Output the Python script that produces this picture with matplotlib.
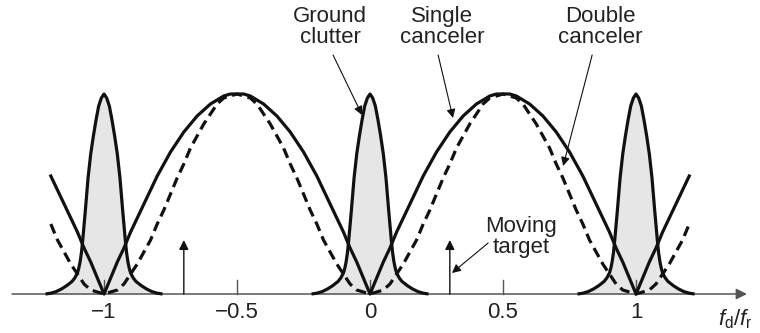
import numpy as np
import matplotlib
matplotlib.use('Agg')
import matplotlib.pyplot as plt

plt.rcParams['font.family'] = ['Liberation Sans', 'DejaVu Sans']
plt.rcParams['mathtext.fontset'] = 'custom'
plt.rcParams['mathtext.rm'] = 'Liberation Sans'
plt.rcParams['mathtext.it'] = 'Liberation Sans:italic'

# tick positions and labels on the f_d/f_r axis
ticks = [-1, -0.5, 0, 0.5, 1]
tick_labels = ['\u22121', '\u22120.5', '0', '0.5', '1']

# one half-lobe of the canceler responses
lobe_offsets = [0, 0.025, 0.05, 0.075, 0.1, 0.125, 0.15, 0.175, 0.2, 0.225, 0.25,
                0.275, 0.3, 0.325, 0.35, 0.375, 0.4, 0.425, 0.45, 0.475, 0.5]
single_level = [0, 0.08, 0.16, 0.23, 0.31, 0.38, 0.45, 0.52, 0.59, 0.65, 0.71,
                0.76, 0.81, 0.85, 0.89, 0.92, 0.95, 0.97, 0.99, 1.0, 1.0]
double_level = [0, 0.01, 0.02, 0.05, 0.10, 0.15, 0.21, 0.27, 0.35, 0.42, 0.50,
                0.58, 0.65, 0.73, 0.79, 0.85, 0.90, 0.95, 0.98, 0.99, 1.0]
canceler_edge = 1.2

# half of one clutter spectrum, repeated at each PRF line
clutter_centres = [-1, 0, 1]
clutter_offsets = [0, 0.01, 0.02, 0.03, 0.04, 0.05, 0.06, 0.07, 0.08, 0.085, 0.09,
                   0.095, 0.10, 0.11, 0.12, 0.14, 0.16, 0.18, 0.20, 0.22]
clutter_level = [1.0, 0.98, 0.94, 0.87, 0.79, 0.70, 0.58, 0.42, 0.27, 0.205, 0.16,
                 0.128, 0.105, 0.08, 0.063, 0.042, 0.025, 0.012, 0.004, 0]

# moving target lines
target_freqs = [-0.7, 0.3]
target_level = 0.27


def canceler_curve(level):
    off = np.array(lobe_offsets)
    lv = np.array(level)
    x = np.concatenate([off, 1 - off[::-1][1:]])
    y = np.concatenate([lv, lv[::-1][1:]])
    xs = np.concatenate([x + k for k in (-2, -1, 0, 1)])
    ys = np.tile(y, 4)
    keep = np.abs(xs) <= canceler_edge + 1e-9
    return xs[keep], ys[keep]


def clutter_curve(centre):
    off = np.array(clutter_offsets)
    lv = np.array(clutter_level)
    x = centre + np.concatenate([-off[::-1], off[1:]])
    y = np.concatenate([lv[::-1], lv[1:]])
    return x, y


fig = plt.figure(figsize=(7.6, 3.33), dpi=100)
ax = fig.add_axes([0, 0, 1, 1])
ax.set_xlim(-1.391, 1.466)
ax.set_ylim(-0.195, 1.47)
ax.axis('off')

ink = '#111111'
txt = '#222222'

# clutter spectra
for c in clutter_centres:
    cx, cy = clutter_curve(c)
    ax.fill_between(cx, 0, cy, color='#e6e6e6', lw=0, zorder=1)
    ax.plot(cx, cy, color=ink, lw=2.3, solid_capstyle='butt', zorder=3)

# x axis with arrow
ax.annotate('', xy=(1.417, 0), xytext=(-1.346, 0),
            arrowprops=dict(arrowstyle='-|>', lw=1.1, color='#555555',
                            mutation_scale=16, shrinkA=0, shrinkB=0), zorder=2)
for t, lab in zip(ticks, tick_labels):
    ax.plot([t, t], [0, 0.07], color='#555555', lw=1.0, zorder=2)
    ax.text(t, -0.09, lab, ha='center', va='center', fontsize=16, color=txt)
ax.text(1.308, -0.125, r'$f_{\mathrm{d}}/f_{\mathrm{r}}$', ha='left', va='center',
        fontsize=16, color=txt)

# canceler responses
sx, sy = canceler_curve(single_level)
ax.plot(sx, sy, color=ink, lw=2.3, zorder=4)
dx, dy = canceler_curve(double_level)
ax.plot(dx, dy, color=ink, lw=2.3, linestyle=(0, (3.2, 1.8)), zorder=4)

# moving targets
for f in target_freqs:
    ax.annotate('', xy=(f, target_level), xytext=(f, 0),
                arrowprops=dict(arrowstyle='-|>', lw=1.0, color=ink,
                                mutation_scale=14, shrinkA=0, shrinkB=0), zorder=3)

# labels with pointers
arrow_kw = dict(arrowstyle='-|>', lw=0.8, color=ink, mutation_scale=13,
                shrinkA=0, shrinkB=0)
ax.text(-0.150, 1.335, 'Ground\nclutter', ha='center', va='center', fontsize=16,
        color=txt, linespacing=1.05)
ax.annotate('', xy=(-0.030, 0.895), xytext=(-0.139, 1.195), arrowprops=arrow_kw)
ax.text(0.271, 1.335, 'Single\ncanceler', ha='center', va='center', fontsize=16,
        color=txt, linespacing=1.05)
ax.annotate('', xy=(0.312, 0.88), xytext=(0.256, 1.195), arrowprops=arrow_kw)
ax.text(0.865, 1.335, 'Double\ncanceler', ha='center', va='center', fontsize=16,
        color=txt, linespacing=1.05)
ax.annotate('', xy=(0.726, 0.64), xytext=(0.835, 1.195), arrowprops=arrow_kw)
ax.text(0.568, 0.285, 'Moving\ntarget', ha='center', va='center', fontsize=16,
        color=txt, linespacing=1.05)
ax.annotate('', xy=(0.308, 0.105), xytext=(0.444, 0.255), arrowprops=arrow_kw)

fig.savefig('out.png', dpi=100)
